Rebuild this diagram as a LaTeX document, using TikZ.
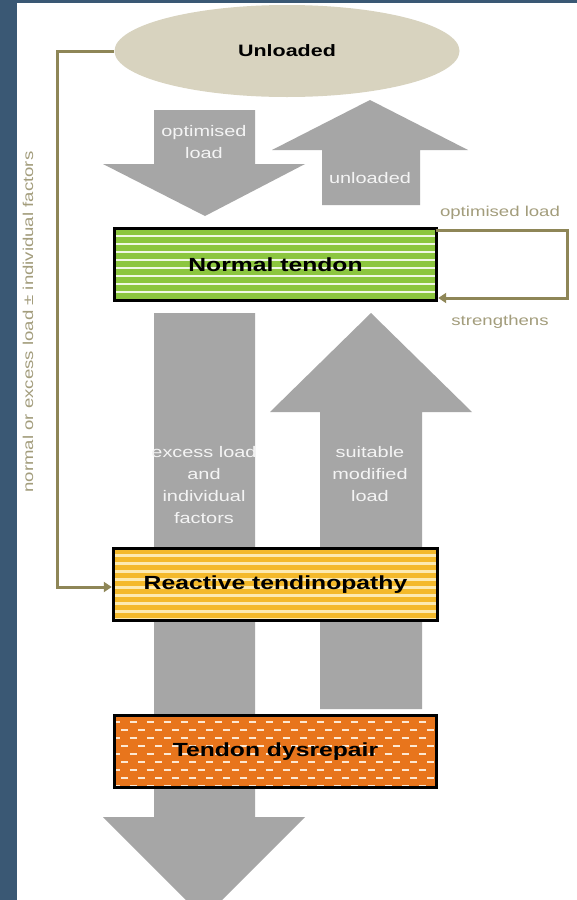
\documentclass[tikz,border=0pt]{standalone}
\usepackage{fontspec}
\setmainfont{Liberation Sans}
\newfontfamily\wsans[FakeStretch=1.3]{Liberation Sans}
\usetikzlibrary{shapes.geometric,arrows.meta,calc}
\definecolor{bgblue}{HTML}{3A5874}
\definecolor{beige}{HTML}{D8D3BF}
\definecolor{agray}{HTML}{A6A6A6}
\definecolor{olive}{HTML}{8E8657}
\definecolor{tan}{HTML}{A39D7C}
\definecolor{tgreen}{HTML}{8CC63F}
\definecolor{gstripe}{HTML}{F0F8E4}
\definecolor{tyellow}{HTML}{F4B92A}
\definecolor{ystripe}{HTML}{FDEAB0}
\definecolor{torange}{HTML}{E8751C}
\definecolor{ostripe}{HTML}{FDE8D2}
\definecolor{lbl}{HTML}{F4F4F4}
\tikzset{
  boxbase/.style={draw=black, line width=3.4pt, inner sep=0pt, outer sep=0pt,
    minimum width=322pt, minimum height=72pt,
    font=\fontsize{19}{22}\selectfont\wsans\bfseries, text=black},
  greenbox/.style={boxbase, fill=tgreen,
    path picture={\foreach \k in {1,...,9}{
      \draw[gstripe, line width=2pt]
        ($(path picture bounding box.north west)+(0,\k*8-1)$) --
        ($(path picture bounding box.north east)+(0,\k*8-1)$);}}},
  yellowbox/.style={boxbase, fill=tyellow,
    path picture={\foreach \k in {1,...,9}{
      \draw[ystripe, line width=2.8pt]
        ($(path picture bounding box.north west)+(0,\k*8-1)$) --
        ($(path picture bounding box.north east)+(0,\k*8-1)$);}}},
  orangebox/.style={boxbase, fill=torange,
    path picture={\foreach \k in {1,3,...,9}{
      \draw[ostripe, line width=2pt, dash pattern=on 7pt off 10pt, dash phase=2pt]
        ($(path picture bounding box.north west)+(0,\k*8-2)$) --
        ($(path picture bounding box.north east)+(0,\k*8-2)$);}
      \foreach \k in {2,4,...,9}{
      \draw[ostripe, line width=2pt, dash pattern=on 7pt off 10pt, dash phase=10.5pt]
        ($(path picture bounding box.north west)+(0,\k*8-2)$) --
        ($(path picture bounding box.north east)+(0,\k*8-2)$);}}},
  albl/.style={text=lbl, align=center, inner sep=0pt,
    font=\fontsize{15.3}{22}\selectfont\wsans},
  sidelbl/.style={text=tan, inner sep=0pt, font=\fontsize{14.3}{16}\selectfont\wsans},
  conn/.style={olive, line width=3pt, -{Triangle[length=8pt,width=10pt]}},
}
\begin{document}
\begin{tikzpicture}[x=1pt,y=-1pt]
\useasboundingbox (0,0) rectangle (577,900);
\clip (0,0) rectangle (577,900);
\fill[bgblue] (0,0) rectangle (577,900);
\fill[white] (17,3) rectangle (577,900);

% grey block arrows
\fill[agray] (154,110) -- (255,110) -- (255,164) -- (305,164) -- (205,216)
  -- (103,164) -- (154,164) -- cycle;
\fill[agray] (370,100) -- (468,150) -- (420,150) -- (420,205) -- (322,205)
  -- (322,150) -- (272,150) -- cycle;
\fill[agray] (154,313) -- (255,313) -- (255,817) -- (305,817) -- (204,918)
  -- (103,817) -- (154,817) -- cycle;
\fill[agray] (371,313) -- (472,412) -- (422,412) -- (422,709) -- (320,709)
  -- (320,412) -- (270,412) -- cycle;

% ellipse
\node[ellipse, fill=beige, minimum width=345pt, minimum height=92pt, inner sep=0pt,
  font=\fontsize{16.5}{18}\selectfont\wsans\bfseries] (unl) at (287,51) {Unloaded};

% boxes
\node[greenbox] (norm) at (275.5,264.5) {Normal tendon};
\node[yellowbox, minimum width=324pt] (react) at (275.5,584.5) {Reactive tendinopathy};
\node[orangebox] (dys) at (275.5,751.5) {Tendon dysrepair};

% arrow labels
\node[albl] (t1) at (204,142.5) {optimised\\load};
\node[albl] (t2) at (370,178) {unloaded};
\node[albl] (t3) at (204,485) {excess load\\and\\individual\\factors};
\node[albl] (t4) at (370,474) {suitable\\modified\\load};

% right loop
\coordinate (lt) at (567,230);
\coordinate (lb) at (567,298);
\draw[conn] ([xshift=-1pt]norm.east |- lt) -- (lt) -- (lb) -- ([xshift=1.7pt]norm.east |- lb);
\node[sidelbl] (s1) at (500,213) {optimised load};
\node[sidelbl] (s2) at (500,322) {strengthens};

% left loop
\coordinate (cl1) at (57,51);
\coordinate (cl2) at (57,587);
\draw[conn] (unl.west) -- (cl1) -- (cl2) -- ([xshift=-1.7pt]react.west |- cl2);
\node[sidelbl, rotate=90] (s3) at (28,322) {normal or excess load ± individual factors};
\end{tikzpicture}
\end{document}
